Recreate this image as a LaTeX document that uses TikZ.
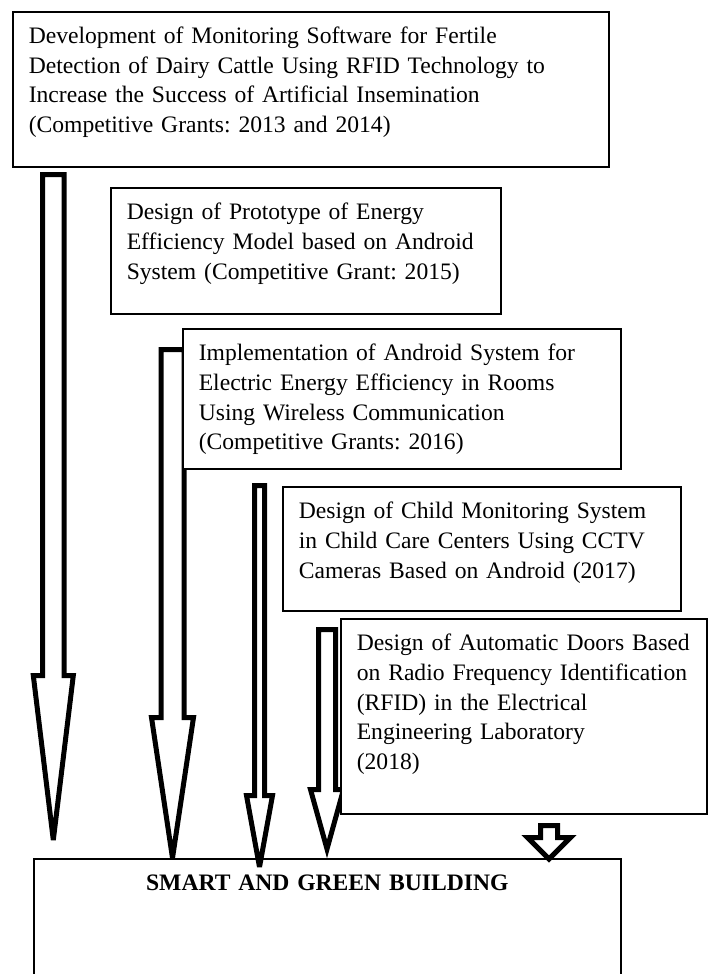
\documentclass[tikz,border=0pt]{standalone}
\usepackage{fontspec}
\setmainfont{Liberation Serif}
\tikzset{
  grant/.style={draw, fill=white, line width=0.8pt, anchor=north west, align=left,
    inner xsep=8pt, inner ysep=0pt, text height=16pt,
    font=\fontsize{11.8}{14.8}\selectfont\frenchspacing},
  goal/.style={grant, align=center, font=\fontsize{11.8}{14.8}\selectfont\bfseries},
  blockarrow/.style={draw, fill=white, line width=2.5pt, miter limit=4}
}
\begin{document}
\begin{tikzpicture}[x=0.5pt, y=-0.5pt]
  \useasboundingbox (0,0) rectangle (707,974);
  % target box, drawn first so the arrow tips lie on top
  \node[goal, text width=277.5pt, text depth=60pt] (building) at (33,858)
    {SMART AND GREEN BUILDING};
  % block arrows: centre x / shaft half / head half / top / head start / tip
  \foreach \cx/\sw/\hw/\ty/\hy/\tp in {53.3/10.8/20/174.5/675.5/840,
      172.5/11.5/21/349.5/717.5/858, 259.5/5/13/485.5/795.5/867,
      327/8.5/16.5/629.5/789.5/849, 549/8.5/21.5/825.5/837.5/859}
    \draw[blockarrow] ({\cx-\sw},\ty) -- ({\cx+\sw},\ty) -- ({\cx+\sw},\hy)
      -- ({\cx+\hw},\hy) -- (\cx,\tp) -- ({\cx-\hw},\hy) -- ({\cx-\sw},\hy) -- cycle;
  % grant boxes
  \node[grant, text width=282pt, text depth=61.5pt] (dairy) at (12,11)
    {Development of Monitoring Software for Fertile\\
     Detection of Dairy Cattle Using RFID Technology to\\
     Increase the Success of Artificial Insemination\\
     (Competitive Grants: 2013 and 2014)};
  \node[grant, text width=179pt, text depth=47pt] (prototype) at (110,187)
    {Design of Prototype of Energy\\
     Efficiency Model based on Android\\
     System (Competitive Grant: 2015)};
  \node[grant, text width=203pt, text depth=54pt] (android) at (182,328)
    {Implementation of Android System for\\
     Electric Energy Efficiency in Rooms\\
     Using Wireless Communication\\
     (Competitive Grants: 2016)};
  \node[grant, text width=183pt, text depth=46pt] (cctv) at (282,486)
    {Design of Child Monitoring System\\
     in Child Care Centers Using CCTV\\
     Cameras Based on Android (2017)};
  \node[grant, text width=167pt, text depth=81.5pt] (doors) at (340,618)
    {Design of Automatic Doors Based\\
     on Radio Frequency Identification\\
     (RFID) in the Electrical\\
     Engineering Laboratory\\
     (2018)};
\end{tikzpicture}
\end{document}
